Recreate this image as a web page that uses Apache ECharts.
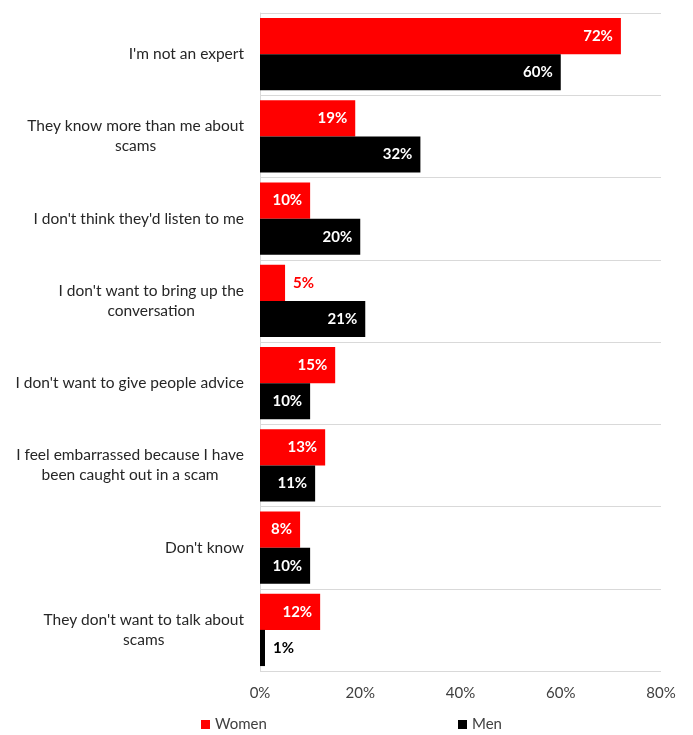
<!DOCTYPE html>
<html>
<head>
<meta charset="utf-8">
<script src="https://cdn.jsdelivr.net/npm/echarts@6/dist/echarts.min.js"></script>
<style>
  html, body { margin: 0; padding: 0; background: #ffffff; }
  #chart { width: 693px; height: 735px; }
</style>
</head>
<body>
<div id="chart"></div>
<script>
// Reasons given for not talking about scams, split by gender
const categories = [
  "I'm not an expert",
  "They know more than me about\nscams",
  "I don't think they'd listen to me",
  "I don't want to bring up the\nconversation",
  "I don't want to give people advice",
  "I feel embarrassed because I have\nbeen caught out in a scam",
  "Don't know",
  "They don't want to talk about\nscams"
];
const women = [72, 19, 10, 5, 15, 13, 8, 12];
const men = [60, 32, 20, 21, 10, 11, 10, 1];
const xTicks = [0, 20, 40, 60, 80];

const FONT = 'Lato';
const RED = '#ff0000';
const BLACK = '#000000';

// Small bars carry their label outside the bar, in the bar colour
function toData(values, color) {
  return values.map(v => {
    if (v < 7) {
      return {
        value: v,
        label: { position: 'right', color: color, distance: 8 }
      };
    }
    return { value: v };
  });
}

// Each line of a wrapped category name is centred within its block
function centredLines(name) {
  return name.split('\n').map(line => '{c|' + line + '}').join('\n');
}

const chart = echarts.init(document.getElementById('chart'));
chart.setOption({
  animation: false,
  textStyle: { fontFamily: FONT },
  grid: { left: 260, right: 32, top: 13, bottom: 64, containLabel: false },
  legend: [
    {
      data: ['Women'],
      left: 196, top: 712,
      itemWidth: 9, itemHeight: 9, itemGap: 6,
      icon: 'rect',
      textStyle: { fontFamily: FONT, fontSize: 15, color: '#404040' }
    },
    {
      data: ['Men'],
      left: 453, top: 712,
      itemWidth: 9, itemHeight: 9, itemGap: 6,
      icon: 'rect',
      textStyle: { fontFamily: FONT, fontSize: 15, color: '#404040' }
    }
  ],
  xAxis: {
    type: 'value',
    min: xTicks[0],
    max: xTicks[xTicks.length - 1],
    interval: xTicks[1] - xTicks[0],
    axisLine: { show: false },
    axisTick: { show: false },
    splitLine: { show: false },
    axisLabel: {
      formatter: '{value}%',
      fontFamily: FONT, fontSize: 15, color: '#404040', margin: 15
    }
  },
  yAxis: {
    type: 'category',
    data: categories,
    inverse: true,
    axisLine: { show: true, lineStyle: { color: '#d9d9d9', width: 1 } },
    axisTick: { show: false },
    splitLine: { show: true, lineStyle: { color: '#d9d9d9', width: 1 } },
    axisLabel: {
      margin: 16,
      align: 'right',
      formatter: centredLines,
      rich: {
        c: {
          align: 'center',
          fontFamily: FONT, fontSize: 15.5, color: '#262626', lineHeight: 20
        }
      }
    }
  },
  series: [
    {
      name: 'Women',
      type: 'bar',
      data: toData(women, RED),
      itemStyle: { color: RED },
      barGap: '0%',
      barCategoryGap: '12%',
      label: {
        show: true, position: 'insideRight', distance: 8,
        formatter: '{c}%', color: '#ffffff',
        fontFamily: FONT, fontSize: 15, fontWeight: 'bold'
      }
    },
    {
      name: 'Men',
      type: 'bar',
      data: toData(men, BLACK),
      itemStyle: { color: BLACK },
      barGap: '0%',
      barCategoryGap: '12%',
      label: {
        show: true, position: 'insideRight', distance: 8,
        formatter: '{c}%', color: '#ffffff',
        fontFamily: FONT, fontSize: 15, fontWeight: 'bold'
      }
    }
  ]
});
</script>
</body>
</html>
